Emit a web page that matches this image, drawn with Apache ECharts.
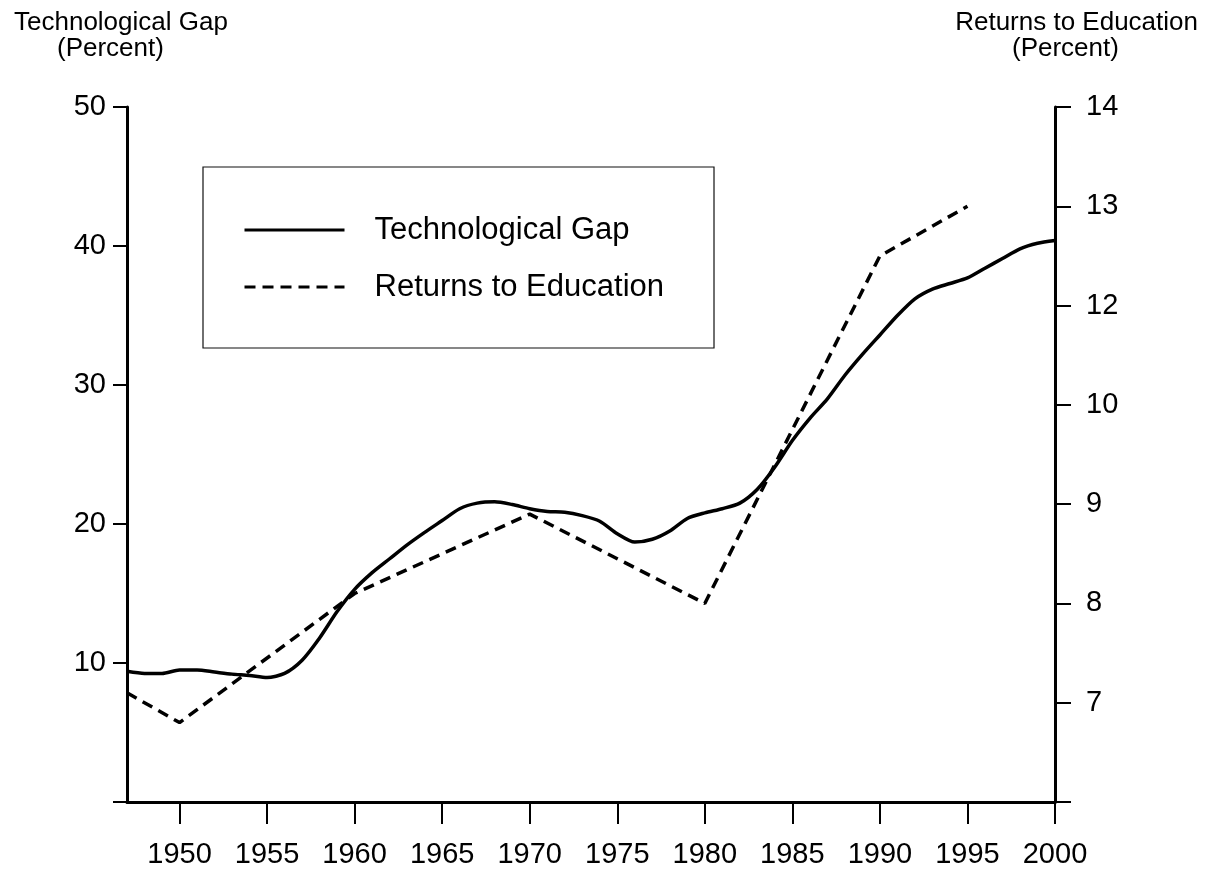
<!DOCTYPE html>
<html>
<head>
<meta charset="utf-8">
<script src="https://cdn.jsdelivr.net/npm/echarts@6/dist/echarts.min.js"></script>
<style>
  html, body { margin: 0; padding: 0; background: #fff; }
  #chart { width: 1208px; height: 872px; }
</style>
</head>
<body>
<div id="chart"></div>
<script>
// years shown on the x axis
var xTicks = [1950, 1955, 1960, 1965, 1970, 1975, 1980, 1985, 1990, 1995, 2000];

// technological gap, yearly 1947-2000 (left axis, percent)
var gapYears = [];
for (var y = 1947; y <= 2000; y++) gapYears.push(y);
var gapValues = [
  9.4, 9.25, 9.25, 9.5, 9.5, 9.35, 9.2, 9.1, 8.95, 9.25,
  10.2, 11.8, 13.7, 15.3, 16.5, 17.5, 18.5, 19.4, 20.25, 21.1,
  21.5, 21.6, 21.4, 21.1, 20.9, 20.85, 20.6, 20.2, 19.3, 18.7,
  18.9, 19.5, 20.4, 20.8, 21.1, 21.5, 22.5, 24.1, 26.0, 27.6,
  29.0, 30.7, 32.2, 33.6, 35.0, 36.2, 36.9, 37.3, 37.7, 38.4,
  39.1, 39.8, 40.2, 40.4
];

// returns to education (right axis). values are in axis position units,
// the printed tick labels skip "11" like the original figure does
var returnYears = [1947, 1950, 1960, 1970, 1980, 1990, 1995];
var returnValues = [7.1, 6.8, 8.1, 8.9, 8.0, 11.5, 12.0];
var rightTickLabels = ['', '7', '8', '9', '10', '12', '13', '14'];

var font = 'Liberation Sans, Arial, Helvetica, sans-serif';

var chart = echarts.init(document.getElementById('chart'));

chart.setOption({
  animation: false,
  textStyle: { fontFamily: font, color: '#000' },
  grid: { left: 127, right: 153, top: 107, bottom: 70, containLabel: false },
  legend: {
    orient: 'vertical',
    left: 203,
    top: 167,
    padding: [46, 50, 44, 40],
    itemGap: 23,
    itemWidth: 100,
    itemHeight: 4,
    borderColor: '#111',
    borderWidth: 1.2,
    itemStyle: { opacity: 0 },
    lineStyle: { width: 3 },
    textStyle: { fontSize: 31, color: '#000', fontFamily: font, lineHeight: 34, padding: [0, 0, 0, 25] },
    data: ['Technological Gap', 'Returns to Education']
  },
  graphic: [
    { type: 'text', left: 14, top: 10, style: { text: 'Technological Gap', font: '26px ' + font, fill: '#000' } },
    { type: 'text', left: 57, top: 36, style: { text: '(Percent)', font: '26px ' + font, fill: '#000' } },
    { type: 'text', right: 10, top: 10, style: { text: 'Returns to Education', font: '26px ' + font, fill: '#000' } },
    { type: 'text', left: 1012, top: 36, style: { text: '(Percent)', font: '26px ' + font, fill: '#000' } }
  ],
  xAxis: {
    type: 'value',
    min: 1947,
    max: 2000,
    axisLine: { lineStyle: { color: '#000', width: 3 } },
    axisTick: { show: true, customValues: xTicks, length: 22, lineStyle: { color: '#000', width: 2 } },
    axisLabel: { customValues: xTicks, fontSize: 29, color: '#000', margin: 38, formatter: function (v) { return String(v); } },
    splitLine: { show: false }
  },
  yAxis: [
    {
      type: 'value',
      position: 'left',
      min: 0,
      max: 50,
      interval: 10,
      axisLine: { show: true, lineStyle: { color: '#000', width: 3 } },
      axisTick: { show: true, length: 14, lineStyle: { color: '#000', width: 2 } },
      axisLabel: { fontSize: 29, color: '#000', margin: 21, formatter: function (v) { return v === 0 ? '' : String(v); } },
      splitLine: { show: false }
    },
    {
      type: 'value',
      position: 'right',
      min: 6,
      max: 13,
      interval: 1,
      axisLine: { show: true, lineStyle: { color: '#000', width: 3 } },
      axisTick: { show: true, length: 16, lineStyle: { color: '#000', width: 2 } },
      axisLabel: { fontSize: 29, color: '#000', margin: 31, formatter: function (v) { return rightTickLabels[Math.round(v - 6)] || ''; } },
      splitLine: { show: false }
    }
  ],
  series: [
    {
      name: 'Technological Gap',
      type: 'line',
      yAxisIndex: 0,
      symbol: 'none',
      smooth: 0.25,
      lineStyle: { color: '#000', width: 3.5 },
      itemStyle: { color: '#000' },
      data: gapYears.map(function (yr, i) { return [yr, gapValues[i]]; })
    },
    {
      name: 'Returns to Education',
      type: 'line',
      yAxisIndex: 1,
      symbol: 'none',
      lineStyle: { color: '#000', width: 3.5, type: [11, 7] },
      itemStyle: { color: '#000' },
      data: returnYears.map(function (yr, i) { return [yr, returnValues[i]]; })
    }
  ]
});
</script>
</body>
</html>
